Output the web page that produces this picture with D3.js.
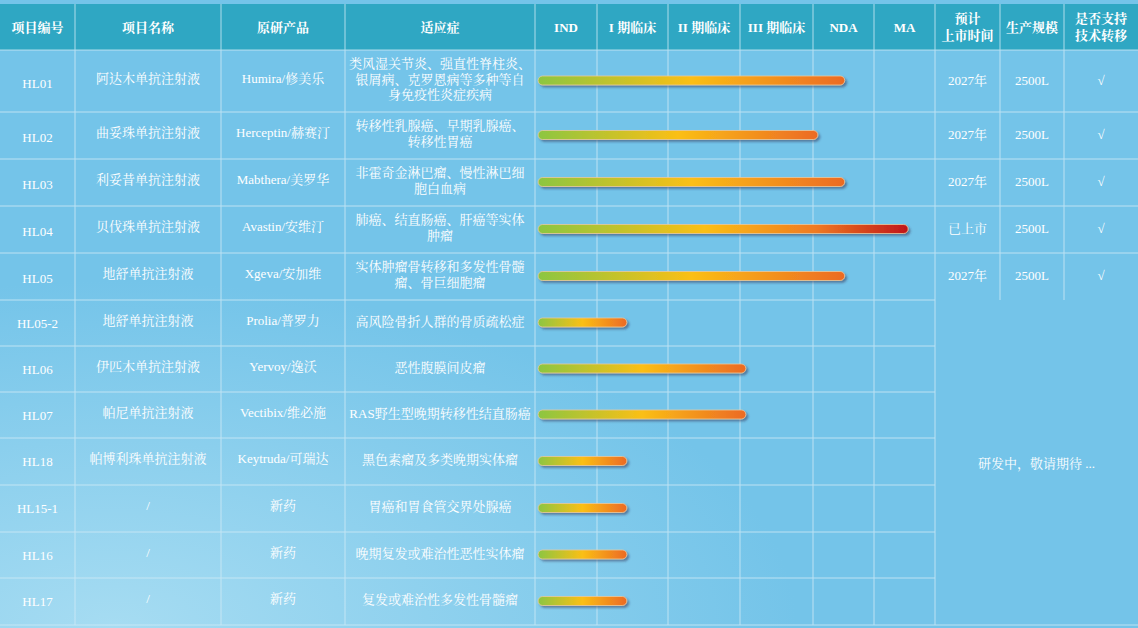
<!DOCTYPE html><html><head><meta charset="utf-8">
<script src="https://cdn.jsdelivr.net/npm/d3@7"></script>
<style>body{margin:0;background:#fff}svg{display:block}</style></head><body>
<svg id="c" width="1138" height="628"></svg>
<script>
const headers=["项目编号","项目名称","原研产品","适应症","IND","I 期临床","II 期临床","III 期临床","NDA","MA","预计\n上市时间","生产规模","是否支持\n技术转移"];
const ids=["HL01","HL02","HL03","HL04","HL05","HL05-2","HL06","HL07","HL18","HL15-1","HL16","HL17"];
const names=["阿达木单抗注射液","曲妥珠单抗注射液","利妥昔单抗注射液","贝伐珠单抗注射液","地舒单抗注射液","地舒单抗注射液","伊匹木单抗注射液","帕尼单抗注射液","帕博利珠单抗注射液","/","/","/"];
const originals=["Humira/修美乐","Herceptin/赫赛汀","Mabthera/美罗华","Avastin/安维汀","Xgeva/安加维","Prolia/普罗力","Yervoy/逸沃","Vectibix/维必施","Keytruda/可瑞达","新药","新药","新药"];
const indications=["类风湿关节炎、强直性脊柱炎、\n银屑病、克罗恩病等多种等自\n身免疫性炎症疾病","转移性乳腺癌、早期乳腺癌、\n转移性胃癌","非霍奇金淋巴瘤、慢性淋巴细\n胞白血病","肺癌、结直肠癌、肝癌等实体\n肿瘤","实体肿瘤骨转移和多发性骨髓\n瘤、骨巨细胞瘤","高风险骨折人群的骨质疏松症","恶性腹膜间皮瘤","RAS野生型晚期转移性结直肠癌","黑色素瘤及多类晚期实体瘤","胃癌和胃食管交界处腺癌","晚期复发或难治性恶性实体瘤","复发或难治性多发性骨髓瘤"];
const progress=[4.52,4.08,4.52,5.56,4.52,1.42,3.08,3.08,1.42,1.42,1.42,1.42];
const launch=["2027年","2027年","2027年","已上市","2027年"];
const scale=["2500L","2500L","2500L","2500L","2500L"];
const transfer=["√","√","√","√","√"];
const pendingText="研发中，敬请期待 ...";

const colX=[0,75,221,345,535,597,668,740,813,874,935,1000,1064,1138];
const rowY=[4,50,112,159,206,253,300,346,392,438,485,532,578,625];
const svg=d3.select("#c");
const defs=svg.append("defs");
const font="'Liberation Serif','Noto Serif CJK SC','Noto Sans CJK SC',serif";
const bg=defs.append("radialGradient").attr("id","bg").attr("cx","0.1").attr("cy","1").attr("r","0.6");
bg.append("stop").attr("offset","0").attr("stop-color","#a6dcf2");
bg.append("stop").attr("offset","1").attr("stop-color","#74c4e9");
svg.append("rect").attr("width",1138).attr("height",628).attr("fill","#74c4e9");
svg.append("rect").attr("y",rowY[1]).attr("width",1138).attr("height",628-rowY[1]).attr("fill","url(#bg)");
svg.append("rect").attr("y",rowY[0]).attr("width",1138).attr("height",rowY[1]-rowY[0]).attr("fill","#2fa7c3");
const sh=defs.append("filter").attr("id","sh").attr("x","-5%").attr("y","-50%").attr("width","110%").attr("height","250%");
sh.append("feDropShadow").attr("dx",2).attr("dy",2).attr("stdDeviation",1.2).attr("flood-color","#335").attr("flood-opacity",0.5);

const x=d3.scaleLinear().domain(d3.range(7)).range(colX.slice(4,11));
const y=i=>rowY[i+1], h=i=>rowY[i+2]-rowY[i+1];
const g=svg.append("g").attr("stroke","#cfeaf6").attr("stroke-width",1).attr("opacity",0.8);
// horizontal lines
rowY.forEach((yy,i)=>{ if(i===0)return; let x2=(i>=6&&i<13)?935:1138; g.append("line").attr("x1",0).attr("x2",x2).attr("y1",yy).attr("y2",yy);});
colX.forEach((xx,i)=>{ if(i===0||i===13)return; let y2=i>=10?rowY[6]:625; g.append("line").attr("x1",xx).attr("x2",xx).attr("y1",rowY[0]).attr("y2",y2);});
[0].forEach(()=>{g.append("line").attr("x1",935).attr("x2",935).attr("y1",rowY[6]).attr("y2",625);});

function txt(cx,cy,s,opt={}){const lines=s.split("\n");const lh=opt.lh||16;
 const t=svg.append("text").attr("x",cx).attr("text-anchor","middle").attr("fill","#fff").attr("font-family",font).attr("font-size",opt.fs||13).attr("font-weight",opt.bold?"bold":"normal");
 lines.forEach((l,k)=>t.append("tspan").attr("x",cx).attr("y",cy+(k-(lines.length-1)/2)*lh).attr("dy","0.35em").text(l));}
headers.forEach((hd,i)=>txt((colX[i]+colX[i+1])/2,(rowY[0]+rowY[1])/2,hd,{bold:true,fs:13,lh:17}));
ids.forEach((d,i)=>{const cy=y(i)+h(i)/2;
 txt((colX[0]+colX[1])/2,cy+(i<5?2:0),d);
 txt((colX[1]+colX[2])/2,cy-3,names[i]);
 txt((colX[2]+colX[3])/2,cy-3,originals[i]);
 txt((colX[3]+colX[4])/2,cy-2,indications[i],{lh:15.5});
 if(i<5){txt((colX[10]+colX[11])/2,cy-1,launch[i]);txt((colX[11]+colX[12])/2,cy-1,scale[i]);txt((colX[12]+colX[13])/2,cy-1,transfer[i]);}
 const x0=x(0.05),x1=x(progress[i]);
 const gr=defs.append("linearGradient").attr("id","gr"+i).attr("gradientUnits","userSpaceOnUse").attr("x1",x0).attr("x2",x1);
 const stops=progress[i]>5?[[0,"#8cc641"],[0.45,"#fbbf16"],[0.75,"#ef7a22"],[1,"#c01519"]]:[[0,"#8cc641"],[0.5,"#fbbf16"],[1,"#ec6a24"]];
 stops.forEach(s=>gr.append("stop").attr("offset",s[0]).attr("stop-color",s[1]));
 svg.append("rect").attr("x",x0).attr("y",cy-5).attr("width",x1-x0).attr("height",9).attr("rx",4.5).attr("fill","url(#gr"+i+")").attr("stroke","#e9c9a0").attr("stroke-width",0.8).attr("filter","url(#sh)");
});
txt((colX[10]+colX[13])/2,(rowY[6]+rowY[13])/2+1,pendingText);
</script></body></html>
